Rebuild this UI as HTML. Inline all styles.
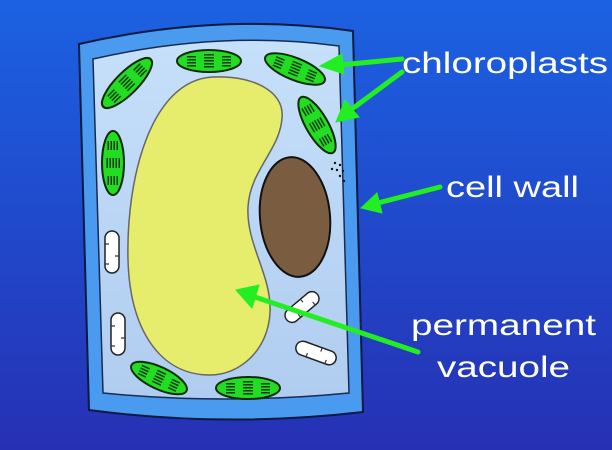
<!DOCTYPE html>
<html><head><style>html,body{margin:0;padding:0;width:612px;height:450px;overflow:hidden}</style></head>
<body>
<svg width="612" height="450" viewBox="0 0 612 450" xmlns="http://www.w3.org/2000/svg">
<defs>
<linearGradient id="bg" x1="0" y1="0" x2="0" y2="1">
<stop offset="0" stop-color="#1b62e2"/><stop offset="1" stop-color="#2630b4"/>
</linearGradient>
<linearGradient id="cyt" x1="0" y1="0" x2="0" y2="1">
<stop offset="0" stop-color="#c6e0fa"/><stop offset="1" stop-color="#b0ccf0"/>
</linearGradient>
<g id="chl">
<ellipse cx="0" cy="0" rx="32" ry="11" fill="#22dd22" stroke="#0a2a0a" stroke-width="2"/>
<g fill="#0b3b0b">
<rect x="-22" y="-5" width="9" height="1.5"/><rect x="-22" y="-2" width="9" height="1.5"/><rect x="-22" y="1" width="9" height="1.5"/><rect x="-22" y="4" width="9" height="1.5"/>
<rect x="-5" y="-7" width="10" height="1.5"/><rect x="-5" y="-4" width="10" height="1.5"/><rect x="-5" y="-1" width="10" height="1.5"/><rect x="-5" y="2" width="10" height="1.5"/><rect x="-5" y="5" width="10" height="1.5"/>
<rect x="13" y="-5" width="9" height="1.5"/><rect x="13" y="-2" width="9" height="1.5"/><rect x="13" y="1" width="9" height="1.5"/><rect x="13" y="4" width="9" height="1.5"/>
</g>
</g>
<g id="mit">
<rect x="-21" y="-7" width="42" height="14" rx="7" fill="#fff" stroke="#222" stroke-width="1.5"/>
<path d="M-8 7 v-4 M4 -7 v4 M12 7 v-4" stroke="#333" stroke-width="1.2"/>
</g>
</defs>
<rect width="612" height="450" fill="url(#bg)"/>
<path d="M79 44 Q220 12 353 31 L363 412 Q225 428 89 410 Z" fill="#4a9af0" stroke="#0a1a40" stroke-width="2"/>
<path d="M93 59 Q220 30 339 46 L349 393 Q225 405 103 393 Z" fill="url(#cyt)" stroke="#1a2a50" stroke-width="1.5"/>
<path d="M213 77 C250 75 285 90 282 118 C280 150 250 170 248 207 C246 245 272 275 270 313 C268 350 240 375 210 375 C160 375 130 330 128 260 C126 180 150 80 213 77 Z" fill="#e6ec6c" stroke="#666" stroke-width="1.5"/>
<ellipse cx="295" cy="217" rx="35" ry="60" transform="rotate(-5 295 217)" fill="#7a5c40" stroke="#111" stroke-width="2"/>
<g fill="#111"><circle cx="335" cy="163" r="1.2"/><circle cx="340" cy="165" r="1.2"/><circle cx="332" cy="169" r="1.2"/><circle cx="337" cy="170" r="1.2"/><circle cx="343" cy="171" r="1.2"/><circle cx="340" cy="176" r="1.2"/><circle cx="344" cy="181" r="1.2"/></g>
<use href="#chl" transform="translate(127 83) rotate(-45) scale(1.05 1)"/>
<use href="#chl" transform="translate(209 61)"/>
<use href="#chl" transform="translate(295 69) rotate(22)"/>
<use href="#chl" transform="translate(317 125) rotate(60)"/>
<use href="#chl" transform="translate(113 163) rotate(90)"/>
<use href="#chl" transform="translate(159 378) rotate(25) scale(0.95 1)"/>
<use href="#chl" transform="translate(248 388)"/>
<use href="#mit" transform="translate(112 252) rotate(90)"/>
<use href="#mit" transform="translate(118 334) rotate(90)"/>
<use href="#mit" transform="translate(302 307) rotate(-40) scale(0.95 1)"/>
<use href="#mit" transform="translate(316 353) rotate(20)"/>
<g fill="#22ee22" stroke="#22ee22" stroke-width="5" stroke-linecap="round">
<line x1="402" y1="59" x2="340" y2="65"/>
<polygon points="320,66 342,54 344,74" stroke-width="1"/>
<line x1="402" y1="72" x2="352" y2="109"/>
<polygon points="336,122 345,100 359,117" stroke-width="1"/>
<line x1="440" y1="187" x2="378" y2="203"/>
<polygon points="361,208 377,193 382,213" stroke-width="1"/>
<line x1="418" y1="352" x2="255" y2="297"/>
<polygon points="236,290 259,285 252,308" stroke-width="1"/>
</g>
<g fill="#fff" font-family="Liberation Sans, sans-serif" font-size="30">
<text x="402" y="73" textLength="206" lengthAdjust="spacingAndGlyphs">chloroplasts</text>
<text x="446" y="197" textLength="133" lengthAdjust="spacingAndGlyphs">cell wall</text>
<text x="411" y="335" textLength="185" lengthAdjust="spacingAndGlyphs">permanent</text>
<text x="437" y="377" textLength="133" lengthAdjust="spacingAndGlyphs">vacuole</text>
</g>
</svg>
</body></html>
